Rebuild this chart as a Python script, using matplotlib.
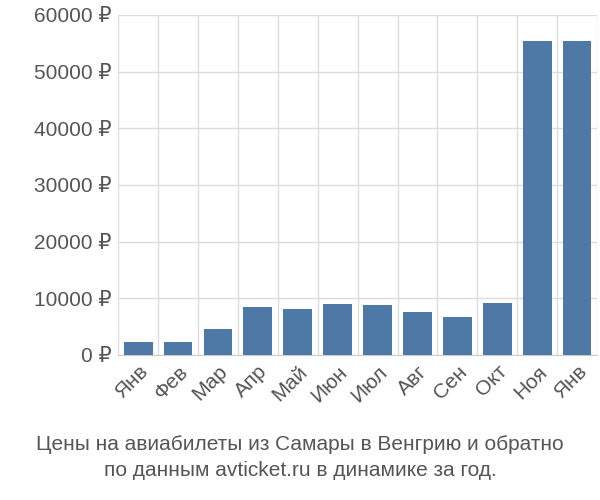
import matplotlib
matplotlib.use("Agg")
import matplotlib.pyplot as plt
import numpy as np

months = ["Янв","Фев","Мар","Апр","Май","Июн","Июл","Авг","Сен","Окт","Ноя","Янв"]
prices = [2300,2300,4600,8500,8100,9000,8800,7600,6700,9200,55500,55400]
yticks = [0,10000,20000,30000,40000,50000,60000]

plt.rcParams["font.family"] = ["Liberation Sans", "DejaVu Sans"]
fig = plt.figure(figsize=(6,5), dpi=100)
ax = fig.add_axes([0.197, 0.29, 0.798, 0.68])
x = np.arange(len(months))
ax.bar(x, prices, width=0.72, color="#4e79a7", zorder=3)
ax.set_xlim(-0.5, len(months)-0.5)
ax.set_ylim(0, 60000)
ax.set_yticks(yticks)
ax.set_yticklabels([f"{v} ₽" for v in yticks], fontsize=15, color="#555555")
ax.set_xticks(x)
ax.set_xticklabels(months, rotation=45, ha="right", rotation_mode="anchor", fontsize=15, color="#555555")
for b in np.arange(-0.5, len(months), 1):
    ax.axvline(b, color="#dddddd", lw=1, zorder=0)
ax.grid(axis="y", color="#dddddd", lw=1, zorder=0)
for s in ["top","right","left"]:
    ax.spines[s].set_visible(False)
ax.spines["bottom"].set_color("#cccccc")
ax.tick_params(axis="both", length=0, pad=5)
fig.text(0.5, 0.085, "Цены на авиабилеты из Самары в Венгрию и обратно\nпо данным avticket.ru в динамике за год.",
         ha="center", va="center", fontsize=15, color="#555555", linespacing=1.4)
fig.savefig("out.png")
